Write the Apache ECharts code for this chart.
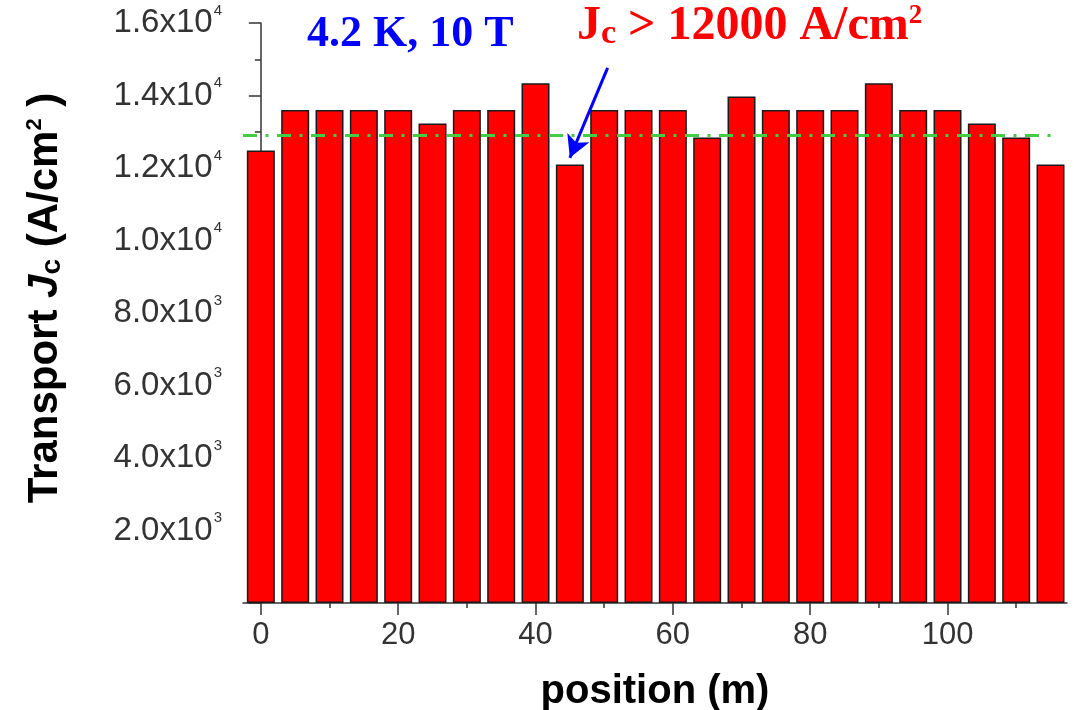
<!DOCTYPE html>
<html><head><meta charset="utf-8">
<script src="https://cdn.jsdelivr.net/npm/echarts@6/dist/echarts.min.js"></script>
<style>html,body{margin:0;padding:0;background:#fff}#c{width:1074px;height:710px}</style>
</head><body><div id="c"></div>
<script>
const positions = [0,5,10,15,20,25,30,35,40,45,50,55,60,65,70,75,80,85,90,95,100,105,110,115];
const jcValues = [12480,13600,13600,13600,13600,13230,13600,13600,14340,12100,13600,13600,13600,12840,13970,13600,13600,13600,14340,13600,13600,13230,12840,12100];
const xLabelValues = [0,20,40,60,80,100];
const xMinorValues = [10,30,50,70,90,110];
const meanJc = 12900;
const meanLineX = [-2.6, 116];
const arrowFrom = [50.5, 14760];
const arrowTo = [45, 12280];

const X_MIN = -2.6, X_MAX = 117.4;
const SANS = '"Liberation Sans", Arial, sans-serif';
const SERIF = '"Liberation Serif", "Times New Roman", serif';

function yFmt(v){
  if (v === 0) return '';
  const e = v >= 10000 ? 4 : 3;
  const m = (v / Math.pow(10, e)).toFixed(1);
  return '{m|' + m + 'x10}{e|' + e + '}';
}

const chart = echarts.init(document.getElementById('c'), null, {renderer:'canvas'});
chart.setOption({
  animation: false,
  backgroundColor: '#fff',
  grid: {left: 243, right: 7, top: 23, bottom: 107, containLabel: false, outerBoundsMode: 'none'},
  xAxis: [{
    type: 'value', min: X_MIN, max: X_MAX,
    splitLine: {show: false},
    axisLine: {show: true, lineStyle: {color: '#333', width: 1.5}},
    axisTick: {show: true, customValues: xLabelValues, length: 12, lineStyle: {color: '#333', width: 1.5}},
    axisLabel: {show: true, customValues: xLabelValues, fontSize: 31, fontFamily: SANS, color: '#333', margin: 17},
    name: 'position (m)', nameLocation: 'middle', nameGap: 69,
    nameTextStyle: {fontSize: 40, fontWeight: 'bold', fontFamily: SANS, color: '#000'}
  }, {
    type: 'value', min: X_MIN, max: X_MAX, position: 'bottom',
    splitLine: {show: false},
    axisLine: {show: false},
    axisTick: {show: true, customValues: xMinorValues, length: 5, lineStyle: {color: '#333', width: 1.5}},
    axisLabel: {show: false}
  }],
  yAxis: {
    type: 'value', min: 0, max: 16000, interval: 2000,
    splitLine: {show: false},
    axisLine: {show: true, lineStyle: {color: '#333', width: 1.5}},
    axisTick: {show: true, length: 12, lineStyle: {color: '#333', width: 1.5}},
    minorTick: {show: true, splitNumber: 2, length: 6, lineStyle: {color: '#333', width: 1.5}},
    axisLabel: {
      margin: 21, formatter: yFmt,
      rich: {
        m: {fontSize: 33, fontFamily: SANS, color: '#333', lineHeight: 40},
        e: {fontSize: 15, fontFamily: SANS, color: '#333', verticalAlign: 'top', lineHeight: 15, padding: [0,0,0,1]}
      }
    }
  },
  series: [{
    type: 'bar',
    xAxisIndex: 0,
    data: positions.map((p, i) => [p, jcValues[i]]),
    barWidth: 28,
    itemStyle: {color: '#ff0000', borderColor: '#1a1a1a', borderWidth: 1.5},
    z: 2
  }, {
    type: 'line',
    xAxisIndex: 0,
    data: [[meanLineX[0], meanJc], [meanLineX[1], meanJc]],
    symbol: 'none',
    lineStyle: {color: '#44cc44', width: 3, type: [14, 8.5, 3, 8.5]},
    z: 3,
    markLine: {
      silent: true,
      symbol: ['none', 'arrow'],
      symbolSize: [18, 22],
      label: {show: false},
      lineStyle: {color: '#0000ff', width: 3, type: 'solid'},
      data: [[{coord: arrowFrom}, {coord: arrowTo}]]
    }
  }],
  graphic: [{
    type: 'text', left: 307, top: 13, z: 10,
    style: {text: '4.2 K, 10 T', font: 'bold 44px ' + SERIF, fill: '#0000ff'}
  }, {
    type: 'text', left: 577, top: 3, z: 10,
    style: {
      text: '{j|J}{s|c}{j| > 12000 A/cm}{p|2}',
      rich: {
        j: {fontSize: 48, fontWeight: 'bold', fontFamily: SERIF, fill: '#ff0000', lineHeight: 48},
        s: {fontSize: 34, fontWeight: 'bold', fontFamily: SERIF, fill: '#ff0000', lineHeight: 18, verticalAlign: 'bottom'},
        p: {fontSize: 27, fontWeight: 'bold', fontFamily: SERIF, fill: '#ff0000', lineHeight: 27, verticalAlign: 'top'}
      }
    }
  }, {
    type: 'text', x: 45, y: 298, rotation: Math.PI / 2, z: 10,
    style: {
      text: '{a|Transport }{i|J}{s|c}{a| (A/cm}{p|2}{a| )}',
      align: 'center', verticalAlign: 'middle',
      rich: {
        a: {fontSize: 42, fontWeight: 'bold', fontFamily: SANS, fill: '#000', lineHeight: 42},
        i: {fontSize: 42, fontWeight: 'bold', fontStyle: 'italic', fontFamily: SANS, fill: '#000', lineHeight: 42},
        s: {fontSize: 28, fontWeight: 'bold', fontFamily: SANS, fill: '#000', lineHeight: 16, verticalAlign: 'bottom'},
        p: {fontSize: 22, fontWeight: 'bold', fontFamily: SANS, fill: '#000', lineHeight: 35, verticalAlign: 'top'}
      }
    }
  }]
});
</script>
</body></html>
